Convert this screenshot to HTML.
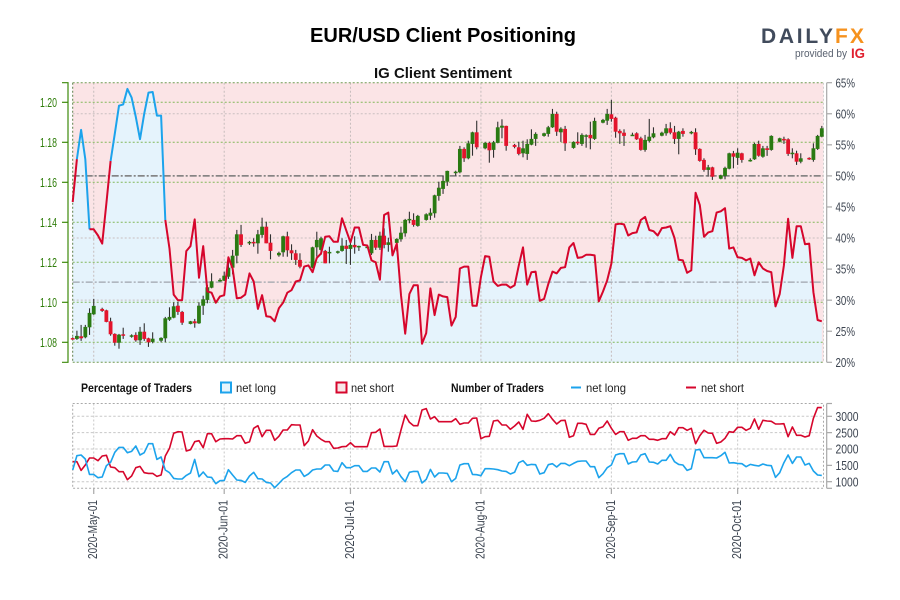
<!DOCTYPE html>
<html lang="en">
<head>
<meta charset="utf-8">
<title>EUR/USD Client Positioning</title>
<style>
html,body{margin:0;padding:0;background:#fff;width:900px;height:600px;overflow:hidden}
svg{display:block;font-family:"Liberation Sans",sans-serif}
</style>
</head>
<body>
<svg id="chart" xmlns="http://www.w3.org/2000/svg" width="900" height="600" viewBox="0 0 900 600">
  <rect x="0" y="0" width="900" height="600" fill="#ffffff"/>
  <text x="443" y="42" text-anchor="middle" font-size="20" font-weight="bold" fill="#000" textLength="266" lengthAdjust="spacingAndGlyphs">EUR/USD Client Positioning</text>
  <text x="443" y="78" text-anchor="middle" font-size="15" font-weight="bold" fill="#111" textLength="138" lengthAdjust="spacingAndGlyphs">IG Client Sentiment</text>
  <g>
    <text x="761" y="43" font-size="21" font-weight="bold" fill="#414b5c" textLength="72" lengthAdjust="spacing">DAILY</text>
    <text x="835" y="43" font-size="21" font-weight="bold" fill="#f6921e" textLength="29" lengthAdjust="spacing">FX</text>
    <text x="795" y="57" font-size="11" fill="#5a6270" textLength="52" lengthAdjust="spacingAndGlyphs">provided by</text>
    <text x="851" y="58" font-size="14" font-weight="bold" fill="#e0202f" textLength="14" lengthAdjust="spacingAndGlyphs">IG</text>
  </g>
  <g id="mainPanel"></g>
  <g id="lowerPanel"></g>
  <g id="xAxis"></g>
  <g>
    <text x="81" y="392" font-size="12" font-weight="bold" fill="#111" textLength="111" lengthAdjust="spacingAndGlyphs">Percentage of Traders</text>
    <rect x="221" y="382.5" width="10" height="10" fill="#e6f4fc" stroke="#1ca3ec" stroke-width="2"/>
    <text x="236" y="392" font-size="12" fill="#222" textLength="40" lengthAdjust="spacingAndGlyphs">net long</text>
    <rect x="336.500" y="382.5" width="10" height="10" fill="#f8e6e8" stroke="#d6062c" stroke-width="2"/>
    <text x="351" y="392" font-size="12" fill="#222" textLength="43" lengthAdjust="spacingAndGlyphs">net short</text>
    <text x="451" y="392" font-size="12" font-weight="bold" fill="#111" textLength="93" lengthAdjust="spacingAndGlyphs">Number of Traders</text>
    <line x1="571" y1="387.500" x2="581" y2="387.500" stroke="#1ca3ec" stroke-width="2"/>
    <text x="586" y="392" font-size="12" fill="#222" textLength="40" lengthAdjust="spacingAndGlyphs">net long</text>
    <line x1="686" y1="387.500" x2="696" y2="387.500" stroke="#d6062c" stroke-width="2"/>
    <text x="701" y="392" font-size="12" fill="#222" textLength="43" lengthAdjust="spacingAndGlyphs">net short</text>
  </g>
</svg>
<script>
const priceTicks = [1.08, 1.10, 1.12, 1.14, 1.16, 1.18, 1.20];
const percentTicks = [20, 25, 30, 35, 40, 45, 50, 55, 60, 65];
const percentGrid = [30, 40, 60];
const percentReference = 50;
const sentimentMean = 32.9;
const countTicks = [1000, 1500, 2000, 2500, 3000];
const countGrid = [1000, 2000, 2500, 3000];
const dateLabels = ['2020-May-01', '2020-Jun-01', '2020-Jul-01', '2020-Aug-01', '2020-Sep-01', '2020-Oct-01'];
const dateDays = [5, 36, 66, 97, 128, 158];

const netLongPercent = [45.8,52.7,57.4,52.7,41.4,41.4,40.4,39.1,45.6,52.4,56.8,61.3,61.5,64,62.6,59.5,55.9,60,63.4,63.5,59.7,59.7,42.9,38.3,30.9,30,30,37.9,38.7,43,33.6,38.7,31.4,31.2,29.6,30.6,30.8,36.9,35.1,30.3,30.4,30.9,34.3,33,28.6,30.8,27.4,27.3,26.6,28.7,29.6,31.2,31.6,33,33.2,35.4,35.6,34.5,36.8,37.5,40.2,40.3,39.4,39.4,43.2,41.2,39.3,41.7,41.7,38.9,38.8,36.4,36.1,33.3,43.7,44.1,37.2,39.1,30.8,24.6,31,32.4,32.4,23,24.7,31.9,27.6,30.9,30.6,30.5,25.9,27.3,35.1,35.4,35.4,29.1,29.1,33.7,37.1,37,33,32.3,32.5,32.5,32,32.4,35.6,38.5,32.5,34.5,34.6,29.9,30.2,32.6,34.6,34.3,35.2,35.3,38.5,39.2,36.8,36.9,37.3,37.3,37.2,29.8,31.4,33.2,35.9,42.2,42.3,42.2,40.4,40.8,40.9,42.9,43.4,41.3,41.1,40.4,41.6,41.7,41.9,40,36.5,36.4,34.4,34.8,47.3,45.3,40.2,40.9,41.1,44.1,44.3,44.8,38.3,38.5,36.9,36.8,36.4,36.7,34,36.1,35.1,34.7,34.5,29,31,35.6,43.1,36.8,41.9,41.9,39,39.1,31.3,26.8,26.6];

const netLongCount = [1357,1796,1816,1694,1224,1224,1122,1143,1490,1592,1898,2050,2050,1887,1928,2091,1816,1887,2163,2163,1683,1755,1357,1275,1102,1082,1082,1194,1265,1683,1153,1296,1143,1133,939,1031,1041,1367,1204,1051,1041,980,1173,1286,1092,1082,980,959,816,949,1082,1163,1275,1357,1357,1163,1235,1357,1388,1388,1510,1510,1326,1316,1581,1428,1428,1490,1490,1316,1316,1418,1418,1296,1612,1612,1235,1357,1153,1000,1286,1316,1316,959,1071,1377,1143,1265,1265,1255,1000,1102,1510,1551,1551,1224,1214,1184,1398,1398,1388,1367,1326,1316,1235,1286,1581,1643,1500,1530,1520,1235,1275,1520,1551,1449,1561,1561,1490,1561,1622,1632,1632,1459,1459,1122,1245,1428,1510,1816,1857,1857,1541,1602,1612,1816,1857,1602,1592,1541,1653,1653,1836,1612,1530,1510,1347,1398,1969,1989,1734,1734,1734,1724,1796,1898,1571,1581,1561,1551,1459,1530,1500,1479,1541,1500,1490,1133,1275,1581,1816,1561,1755,1755,1510,1561,1326,1204,1194];

const netShortCount = [1612,1612,1347,1510,1724,1724,1643,1785,1806,1449,1428,1306,1306,1061,1173,1428,1469,1275,1255,1255,1163,1204,1785,2020,2479,2530,2520,1938,1979,2224,2255,2040,2469,2469,2224,2306,2316,2316,2306,2408,2408,2173,2224,2632,2714,2377,2571,2571,2265,2387,2581,2581,2744,2734,2734,2102,2244,2591,2397,2296,2224,2224,2020,2030,2071,2081,2193,2071,2071,2071,2071,2499,2510,2612,2081,2081,2081,2091,2581,3040,2816,2714,2714,3193,3234,2918,2989,2836,2836,2836,2836,2928,2754,2795,2795,2938,2948,2316,2377,2387,2856,2877,2734,2734,2601,2704,2826,2601,3060,2856,2846,2877,2938,3081,2907,2765,2867,2877,2357,2408,2785,2785,2754,2448,2448,2632,2683,2856,2632,2448,2530,2530,2265,2326,2326,2408,2408,2296,2296,2265,2316,2316,2530,2428,2652,2652,2571,2632,2163,2408,2571,2489,2479,2173,2214,2326,2530,2510,2663,2663,2571,2632,2918,2601,2877,2856,2846,2765,2765,2775,2377,2673,2418,2418,2367,2408,2938,3265,3265];

const candleDays = [0,1,2,3,4,5,7,8,9,10,11,12,14,15,16,17,18,19,21,22,23,24,25,26,28,29,30,31,32,33,35,36,37,38,39,40,42,43,44,45,46,47,49,50,51,52,53,54,57,58,59,60,61,63,64,65,66,67,68,70,71,72,73,74,75,77,78,79,80,81,82,84,85,86,87,88,89,91,92,93,94,95,96,98,99,100,101,102,103,105,106,107,108,109,110,112,113,114,115,116,117,119,120,121,122,123,124,126,127,128,129,130,131,133,134,135,136,137,138,140,141,142,143,144,145,147,148,149,150,151,152,154,155,156,157,158,159,161,162,163,164,165,166,168,169,170,171,172,173,175,176,177,178];
const candleOpen = [1.0821,1.0817,1.0830,1.0825,1.0875,1.0940,1.0967,1.0960,1.0905,1.0842,1.0798,1.0840,1.0830,1.0837,1.0810,1.0853,1.0820,1.0802,1.0808,1.0820,1.0913,1.0923,1.0983,1.0952,1.0892,1.0905,1.0895,1.0983,1.1012,1.1073,1.1107,1.1108,1.1128,1.1173,1.1233,1.1340,1.1295,1.1302,1.1295,1.1337,1.1378,1.1298,1.1235,1.1250,1.1330,1.1260,1.1245,1.1212,1.1173,1.1275,1.1262,1.1257,1.1247,1.1250,1.1257,1.1283,1.1267,1.1287,1.1277,1.1273,1.1245,1.1312,1.1273,1.1333,1.1287,1.1297,1.1315,1.1345,1.1412,1.1412,1.1382,1.1412,1.1433,1.1445,1.1532,1.1567,1.1603,1.1650,1.1650,1.1767,1.1720,1.1792,1.1850,1.1770,1.1797,1.1762,1.1797,1.1873,1.1882,1.1787,1.1775,1.1745,1.1742,1.1788,1.1817,1.1832,1.1842,1.1875,1.1942,1.1850,1.1867,1.1772,1.1803,1.1792,1.1828,1.1837,1.1817,1.1898,1.1908,1.1940,1.1923,1.1857,1.1848,1.1835,1.1845,1.1820,1.1762,1.1807,1.1825,1.1833,1.1845,1.1870,1.1850,1.1817,1.1857,1.1845,1.1850,1.1767,1.1712,1.1662,1.1675,1.1618,1.1632,1.1668,1.1745,1.1722,1.1745,1.1708,1.1715,1.1792,1.1728,1.1770,1.1762,1.1803,1.1817,1.1815,1.1742,1.1745,1.1703,1.1722,1.1712,1.1767,1.1828];
const candleHigh = [1.0825,1.0858,1.0887,1.0887,1.0970,1.1017,1.0973,1.0963,1.0923,1.0845,1.0842,1.0873,1.0840,1.0850,1.0877,1.0895,1.0823,1.0850,1.0825,1.0927,1.0975,1.1000,1.1003,1.0957,1.0907,1.0917,1.1000,1.1033,1.1087,1.1145,1.1120,1.1153,1.1228,1.1262,1.1362,1.1387,1.1307,1.1320,1.1362,1.1423,1.1403,1.1340,1.1253,1.1333,1.1353,1.1290,1.1262,1.1245,1.1278,1.1353,1.1328,1.1262,1.1278,1.1258,1.1320,1.1312,1.1307,1.1330,1.1283,1.1280,1.1342,1.1333,1.1353,1.1370,1.1323,1.1320,1.1378,1.1417,1.1453,1.1445,1.1437,1.1445,1.1470,1.1538,1.1603,1.1632,1.1658,1.1658,1.1782,1.1775,1.1808,1.1853,1.1908,1.1802,1.1803,1.1807,1.1903,1.1915,1.1883,1.1792,1.1803,1.1808,1.1815,1.1865,1.1850,1.1848,1.1882,1.1967,1.1953,1.1875,1.1882,1.1805,1.1850,1.1845,1.1840,1.1903,1.1923,1.1917,1.1967,1.2012,1.1928,1.1865,1.1865,1.1848,1.1850,1.1828,1.1837,1.1917,1.1875,1.1853,1.1892,1.1900,1.1882,1.1857,1.1870,1.1857,1.1870,1.1770,1.1720,1.1687,1.1678,1.1638,1.1678,1.1748,1.1757,1.1770,1.1748,1.1720,1.1798,1.1808,1.1782,1.1782,1.1835,1.1823,1.1828,1.1820,1.1770,1.1758,1.1745,1.1725,1.1795,1.1837,1.1882];
const candleLow = [1.0817,1.0812,1.0807,1.0820,1.0837,1.0937,1.0952,1.0900,1.0833,1.0783,1.0768,1.0817,1.0823,1.0803,1.0787,1.0807,1.0777,1.0795,1.0800,1.0800,1.0907,1.0920,1.0937,1.0887,1.0890,1.0873,1.0892,1.0937,1.0995,1.1070,1.1103,1.1107,1.1117,1.1140,1.1195,1.1277,1.1287,1.1278,1.1243,1.1323,1.1295,1.1215,1.1228,1.1228,1.1228,1.1212,1.1187,1.1170,1.1170,1.1228,1.1237,1.1195,1.1195,1.1243,1.1253,1.1192,1.1187,1.1243,1.1257,1.1272,1.1237,1.1262,1.1262,1.1270,1.1253,1.1255,1.1303,1.1328,1.1395,1.1378,1.1378,1.1408,1.1412,1.1423,1.1508,1.1542,1.1582,1.1633,1.1645,1.1702,1.1715,1.1733,1.1765,1.1765,1.1698,1.1723,1.1795,1.1820,1.1758,1.1770,1.1735,1.1725,1.1712,1.1785,1.1782,1.1828,1.1828,1.1872,1.1832,1.1802,1.1757,1.1768,1.1787,1.1782,1.1773,1.1765,1.1812,1.1895,1.1887,1.1903,1.1823,1.1792,1.1782,1.1833,1.1812,1.1758,1.1753,1.1800,1.1820,1.1830,1.1833,1.1840,1.1792,1.1740,1.1828,1.1840,1.1737,1.1703,1.1653,1.1628,1.1612,1.1615,1.1615,1.1665,1.1670,1.1687,1.1698,1.1703,1.1712,1.1728,1.1723,1.1732,1.1758,1.1800,1.1792,1.1732,1.1720,1.1687,1.1695,1.1712,1.1703,1.1762,1.1825];
const candleClose = [1.0820,1.0832,1.0820,1.0877,1.0947,1.0982,1.0957,1.0902,1.0840,1.0798,1.0838,1.0837,1.0835,1.0810,1.0853,1.0817,1.0800,1.0818,1.0822,1.0920,1.0927,1.0980,1.0952,1.0898,1.0905,1.0895,1.0983,1.1015,1.1075,1.1105,1.1112,1.1133,1.1173,1.1233,1.1340,1.1287,1.1302,1.1295,1.1340,1.1378,1.1295,1.1257,1.1247,1.1330,1.1260,1.1245,1.1212,1.1178,1.1275,1.1312,1.1320,1.1195,1.1252,1.1255,1.1283,1.1267,1.1287,1.1275,1.1282,1.1278,1.1312,1.1273,1.1333,1.1287,1.1300,1.1317,1.1348,1.1412,1.1417,1.1387,1.1432,1.1440,1.1448,1.1535,1.1573,1.1607,1.1657,1.1653,1.1767,1.1720,1.1795,1.1850,1.1775,1.1797,1.1760,1.1800,1.1875,1.1883,1.1782,1.1777,1.1742,1.1770,1.1792,1.1817,1.1842,1.1845,1.1875,1.1942,1.1853,1.1868,1.1795,1.1802,1.1795,1.1837,1.1835,1.1820,1.1907,1.1912,1.1942,1.1917,1.1853,1.1845,1.1832,1.1838,1.1815,1.1762,1.1812,1.1828,1.1845,1.1848,1.1870,1.1848,1.1817,1.1853,1.1842,1.1852,1.1765,1.1707,1.1662,1.1675,1.1628,1.1635,1.1672,1.1745,1.1728,1.1748,1.1712,1.1712,1.1792,1.1733,1.1770,1.1762,1.1832,1.1820,1.1812,1.1742,1.1748,1.1703,1.1720,1.1715,1.1770,1.1832,1.1870];

const NS = 'http://www.w3.org/2000/svg';
const plotLeft = 72.7, plotRight = 823.5, plotTop = 82.7, plotBottom = 362.3;
const lowerTop = 403.5, lowerBottom = 488.3;
function xDay(d) { return plotLeft + d * 4.2085; }
function yPrice(p) { return 342.3 - (p - 1.08) * 2000; }
function yPercent(p) { return 362.3 - (p - 20) * 6.2133; }
function yCount(c) { return 481.7 - (c - 1000) * 0.0327; }

function make(parent, tag, attrs) {
  const el = document.createElementNS(NS, tag);
  for (const k in attrs) el.setAttribute(k, attrs[k]);
  parent.appendChild(el);
  return el;
}
const main = document.getElementById('mainPanel');
const lower = document.getElementById('lowerPanel');
const xAxis = document.getElementById('xAxis');

/* backgrounds */
const pinkBg = make(main, 'rect', {x: plotLeft, y: plotTop, width: plotRight - plotLeft, height: plotBottom - plotTop, fill: '#fbe4e6'});


const areaPts = netLongPercent.map((v, i) => xDay(i).toFixed(1) + ',' + yPercent(v).toFixed(1));
areaPts.push(xDay(netLongPercent.length - 1).toFixed(1) + ',' + plotBottom);
areaPts.push(plotLeft + ',' + plotBottom);
const blueArea = make(main, 'polygon', {points: areaPts.join(' '), fill: '#e5f3fc'});



/* percent and date grid */
percentGrid.forEach(v => {
  const g = make(main, 'line', {x1: plotLeft, x2: plotRight, y1: yPercent(v), y2: yPercent(v), stroke: '#c9bfc0', 'stroke-width': 1, 'stroke-dasharray': '2 2'});
  
  
});
dateDays.forEach(d => {
  const g = make(main, 'line', {x1: xDay(d), x2: xDay(d), y1: plotTop, y2: plotBottom, stroke: '#c6bcbc', 'stroke-width': 1, 'stroke-dasharray': '2 2'});
  
  
});
/* price grid */
priceTicks.forEach(p => {
  const g = make(main, 'line', {x1: plotLeft, x2: plotRight, y1: yPrice(p), y2: yPrice(p), stroke: '#82b85a', 'stroke-width': 1, 'stroke-dasharray': '2 2'});
  
  
});
/* reference lines */
const meanLine = make(main, 'line', {x1: plotLeft, x2: plotRight, y1: yPercent(sentimentMean), y2: yPercent(sentimentMean), stroke: '#9ea3ab', 'stroke-width': 1.3, 'stroke-dasharray': '7 2 2 2'});


const refLine = make(main, 'line', {x1: plotLeft, x2: plotRight, y1: yPercent(percentReference), y2: yPercent(percentReference), stroke: '#767676', 'stroke-width': 1.5, 'stroke-dasharray': '7 2 2 2'});



/* plot frame */
[[plotLeft, plotTop, plotRight, plotTop, '#6f9a50'], [plotLeft, plotBottom, plotRight, plotBottom, '#6f9a50'], [plotLeft, plotTop, plotLeft, plotBottom, '#5d7f4a'], [plotRight, plotTop, plotRight, plotBottom, '#cfcfcf']].forEach(f => {
  const b = make(main, 'line', {x1: f[0], y1: f[1], x2: f[2], y2: f[3], stroke: f[4], 'stroke-width': 1, 'stroke-dasharray': '2 2'});
  
  
});

/* candles */
candleDays.forEach((d, i) => {
  const up = candleClose[i] >= candleOpen[i];
  const x = xDay(d);
  const grp = make(main, 'g', {});
  
  
  make(grp, 'line', {x1: x, x2: x, y1: yPrice(candleHigh[i]), y2: yPrice(candleLow[i]), stroke: '#303030', 'stroke-width': 1.1});
  const top = yPrice(Math.max(candleOpen[i], candleClose[i]));
  const h = Math.max(1.5, Math.abs(yPrice(candleOpen[i]) - yPrice(candleClose[i])));
  make(grp, 'rect', {x: x - 1.9, y: top, width: 3.8, height: h, fill: up ? '#2a7a12' : '#e3142c'});
});

/* sentiment line, coloured by side of 50% at segment start */
function colourSegments(values, yFn) {
  let start = 0;
  while (start < values.length - 1) {
    const above = values[start] > percentReference;
    let end = start + 1;
    while (end < values.length - 1 && (values[end] > percentReference) === above) end++;
    const pts = [];
    for (let k = start; k <= end; k++) pts.push(xDay(k).toFixed(1) + ',' + yFn(values[k]).toFixed(1));
    const seg = make(main, 'polyline', {points: pts.join(' '), fill: 'none', stroke: above ? '#1ca3ec' : '#d6062c', 'stroke-width': 2, 'stroke-linejoin': 'round'});
    
    
    start = end;
  }
}
colourSegments(netLongPercent, yPercent);

/* left price axis */
const leftAxis = make(main, 'path', {d: 'M62 ' + plotTop + 'H68V' + plotBottom + 'H62', fill: 'none', stroke: '#3d8a0a', 'stroke-width': 1.2});


priceTicks.forEach(p => {
  const t = make(main, 'line', {x1: 62, x2: 68, y1: yPrice(p), y2: yPrice(p), stroke: '#3d8a0a', 'stroke-width': 1.2});
  
  
  const l = make(main, 'text', {x: 40, y: yPrice(p) + 4.6, 'font-size': 13, fill: '#2f7d0a', textLength: 17, lengthAdjust: 'spacingAndGlyphs'});
  l.textContent = p.toFixed(2);
  
  
});

/* right percent axis */
const rightAxis = make(main, 'line', {x1: 826.7, x2: 826.7, y1: plotTop, y2: plotBottom, stroke: '#a8a8a8', 'stroke-width': 1.2});


percentTicks.forEach(p => {
  const t = make(main, 'line', {x1: 826.7, x2: 832, y1: yPercent(p), y2: yPercent(p), stroke: '#a8a8a8', 'stroke-width': 1.2});
  
  
  const l = make(main, 'text', {x: 835.5, y: yPercent(p) + 4.6, 'font-size': 13, fill: '#3c4450', textLength: 19.5, lengthAdjust: 'spacingAndGlyphs'});
  l.textContent = p + '%';
  
  
});

/* lower panel */
countGrid.forEach(c => {
  const g = make(lower, 'line', {x1: plotLeft, x2: plotRight, y1: yCount(c), y2: yCount(c), stroke: '#c8c8c8', 'stroke-width': 1, 'stroke-dasharray': '2.500 2'});
  
  
});
dateDays.forEach(d => {
  const g = make(lower, 'line', {x1: xDay(d), x2: xDay(d), y1: lowerTop, y2: lowerBottom, stroke: '#c8c8c8', 'stroke-width': 1, 'stroke-dasharray': '2 2'});
  
  
});
const lowerFrame = make(lower, 'rect', {x: plotLeft, y: lowerTop, width: plotRight - plotLeft, height: lowerBottom - lowerTop, fill: 'none', stroke: '#a9a9a9', 'stroke-width': 1, 'stroke-dasharray': '2 2'});


const shortLine = make(lower, 'polyline', {points: netShortCount.map((v, i) => xDay(i).toFixed(1) + ',' + yCount(v).toFixed(1)).join(' '), fill: 'none', stroke: '#d6062c', 'stroke-width': 1.6, 'stroke-linejoin': 'round'});


const longLine = make(lower, 'polyline', {points: netLongCount.map((v, i) => xDay(i).toFixed(1) + ',' + yCount(v).toFixed(1)).join(' '), fill: 'none', stroke: '#1ca3ec', 'stroke-width': 1.6, 'stroke-linejoin': 'round'});


const countAxis = make(lower, 'line', {x1: 826.7, x2: 826.7, y1: lowerTop, y2: lowerBottom, stroke: '#a8a8a8', 'stroke-width': 1.2});


[lowerTop, lowerBottom].forEach(y => {
  const cap = make(lower, 'line', {x1: 826.7, x2: 832, y1: y, y2: y, stroke: '#a8a8a8', 'stroke-width': 1.2});
  
  
});
countTicks.forEach(c => {
  const t = make(lower, 'line', {x1: 826.7, x2: 832, y1: yCount(c), y2: yCount(c), stroke: '#a8a8a8', 'stroke-width': 1.2});
  
  
  const l = make(lower, 'text', {x: 835.5, y: yCount(c) + 4.6, 'font-size': 13, fill: '#3c4450', textLength: 23, lengthAdjust: 'spacingAndGlyphs'});
  l.textContent = c;
  
  
});

/* date axis */
dateDays.forEach((d, i) => {
  const x = xDay(d);
  const t = make(xAxis, 'line', {x1: x, x2: x, y1: 488.5, y2: 494, stroke: '#a8a8a8', 'stroke-width': 1.2});
  
  
  const l = make(xAxis, 'text', {x: 0, y: 0, 'font-size': 13, fill: '#3c4450', textLength: 59, lengthAdjust: 'spacingAndGlyphs', transform: 'translate(' + (x + 3.4).toFixed(1) + ' 559) rotate(-90)'});
  l.textContent = dateLabels[i];
  
  
});
</script>
</body>
</html>
